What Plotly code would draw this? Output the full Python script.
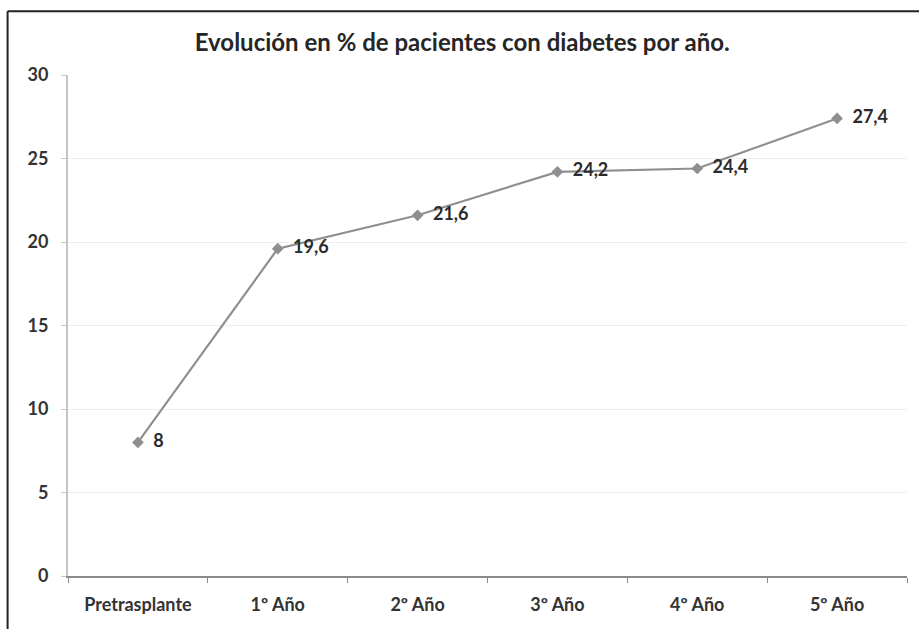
import plotly.graph_objects as go

# Percentage of patients with diabetes by year
categories = ["Pretrasplante", "1º Año", "2º Año", "3º Año", "4º Año", "5º Año"]
values = [8, 19.6, 21.6, 24.2, 24.4, 27.4]
value_labels = ["8", "19,6", "21,6", "24,2", "24,4", "27,4"]
y_ticks = [0, 5, 10, 15, 20, 25, 30]

title_text = "Evolución en % de pacientes con diabetes por año."

font_family = "Lato, 'Open Sans', sans-serif"

fig = go.Figure()
fig.add_trace(go.Scatter(
    x=categories,
    y=values,
    mode="lines+markers+text",
    line=dict(color="#8f8f8f", width=2.2),
    marker=dict(symbol="diamond", size=9, color="#8f8f8f"),
    text=["  " + t for t in value_labels],
    textposition="middle right",
    textfont=dict(family=font_family, size=18, color="#2b2b2b", weight="bold"),
    cliponaxis=False,
    showlegend=False,
))

fig.update_layout(
    width=919,
    height=629,
    margin=dict(l=68, r=12, t=75, b=53),
    paper_bgcolor="white",
    plot_bgcolor="white",
    title=dict(
        text=title_text,
        x=0.503, xanchor="center",
        y=0.933, yanchor="middle",
        font=dict(family=font_family, size=24, color="#262626", weight="bold"),
    ),
    xaxis=dict(
        type="category",
        showline=True,
        linecolor="#8a8a8a",
        linewidth=2,
        ticks="outside",
        tickson="boundaries",
        ticklen=5,
        tickcolor="#8a8a8a",
        showgrid=False,
        ticklabelstandoff=11,
        tickfont=dict(family=font_family, size=18, color="#333333", weight="bold"),
        range=[-0.5, 5.5],
        fixedrange=True,
    ),
    yaxis=dict(
        range=[0, 30],
        tickvals=y_ticks,
        showline=True,
        linecolor="#c4c4c4",
        linewidth=2,
        ticks="outside",
        ticklen=5,
        tickcolor="#c4c4c4",
        showgrid=True,
        gridcolor="#eeeeee",
        gridwidth=1,
        zeroline=False,
        ticklabelstandoff=9,
        tickfont=dict(family=font_family, size=18, color="#333333", weight="bold"),
    ),
    shapes=[
        dict(type="line", xref="paper", yref="paper",
             x0=-0.072, x1=1.02, y0=1.127, y1=1.127,
             line=dict(color="#222222", width=2)),
        dict(type="line", xref="paper", yref="paper",
             x0=-0.072, x1=-0.072, y0=1.127, y1=-0.12,
             line=dict(color="#222222", width=2)),
    ],
)

fig.write_html("out.html")
